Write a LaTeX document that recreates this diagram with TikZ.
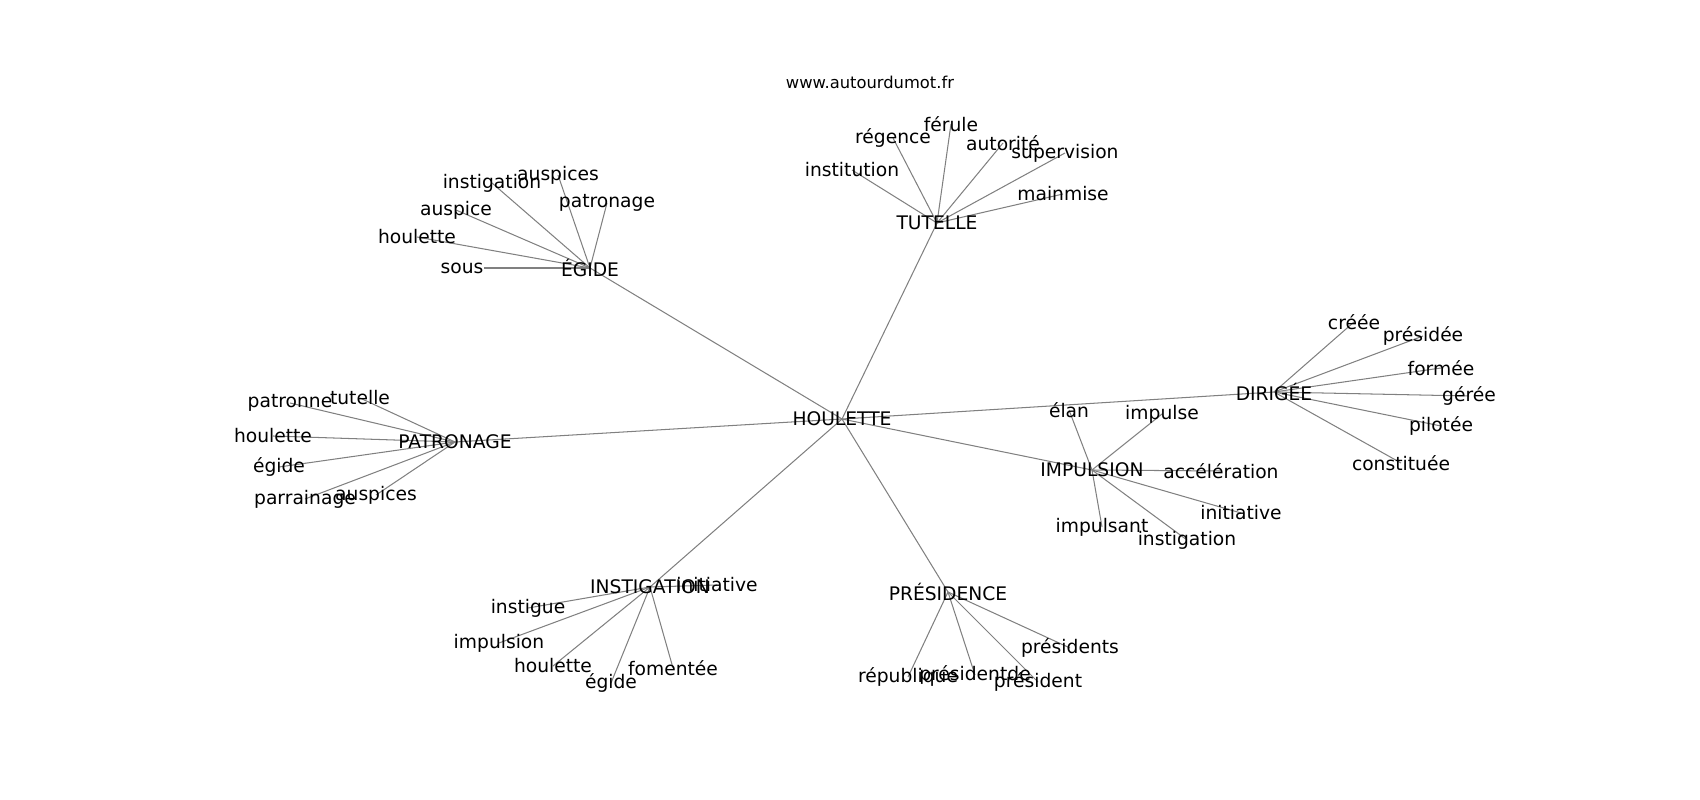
\documentclass[tikz,border=0pt]{standalone}
\usepackage{fontspec}
\setmainfont{DejaVu Sans}
\usepackage{tikz}
\usetikzlibrary{backgrounds}

\begin{document}
\begin{tikzpicture}[x=0.01in,y=-0.01in,
	word/.style={inner sep=0pt,font=\fontsize{13.5}{16}\selectfont},
	link/.style={draw=gray,line width=0.75pt}]
		\useasboundingbox (0,0) rectangle (1700,800);
		\node[inner sep=0pt,font=\fontsize{11.8}{14}\selectfont] (WWW) at (870,82) {www.autourdumot.fr};
		%
		\node[word] (H) at (842,419) {HOULETTE};
		\node[word] (EG) at (590,268) {ÉGIDE};
		\node[word] (TU) at (937,223) {TUTELLE};
		\node[word] (PA) at (455,442) {PATRONAGE};
		\node[word] (IN) at (650,587) {INSTIGATION};
		\node[word] (PR) at (948,592) {PRÉSIDENCE};
		\node[word] (IM) at (1092,470) {IMPULSION};
		\node[word] (DI) at (1274,392) {DIRIGÉE};
		%
		\node[word] (EG1) at (462,268) {sous};
		\node[word] (EG2) at (417,237) {houlette};
		\node[word] (EG3) at (456,210) {auspice};
		\node[word] (EG4) at (492,183) {instigation};
		\node[word] (EG5) at (558,175) {auspices};
		\node[word] (EG6) at (607,203) {patronage};
		%
		\node[word] (TU1) at (852,170) {institution};
		\node[word] (TU2) at (893,138) {régence};
		\node[word] (TU3) at (951,124) {férule};
		\node[word] (TU4) at (1003,143) {autorité};
		\node[word] (TU5) at (1065,153) {supervision};
		\node[word] (TU6) at (1063,194) {mainmise};
		%
		\node[word] (PA1) at (290,403) {patronne};
		\node[word] (PA2) at (360,398) {tutelle};
		\node[word] (PA3) at (273,436) {houlette};
		\node[word] (PA4) at (279,467) {égide};
		\node[word] (PA5) at (305,499) {parrainage};
		\node[word] (PA6) at (376,495) {auspices};
		%
		\node[word] (IN1) at (717,585) {initiative};
		\node[word] (IN2) at (528,608) {instigue};
		\node[word] (IN3) at (499,643) {impulsion};
		\node[word] (IN4) at (553,666) {houlette};
		\node[word] (IN5) at (611,683) {égide};
		\node[word] (IN6) at (673,668) {fomentée};
		%
		\node[word] (PR1) at (908,677) {république};
		\node[word] (PR2) at (975,675) {présidentde};
		\node[word] (PR3) at (1038,682) {président};
		\node[word] (PR4) at (1070,648) {présidents};
		%
		\node[word] (IM1) at (1069,410) {élan};
		\node[word] (IM2) at (1162,414) {impulse};
		\node[word] (IM3) at (1221,471) {accélération};
		\node[word] (IM4) at (1241,513) {initiative};
		\node[word] (IM5) at (1102,527) {impulsant};
		\node[word] (IM6) at (1187,540) {instigation};
		%
		\node[word] (DI1) at (1354,322) {créée};
		\node[word] (DI2) at (1423,336) {présidée};
		\node[word] (DI3) at (1441,368) {formée};
		\node[word] (DI4) at (1469,396) {gérée};
		\node[word] (DI5) at (1441,426) {pilotée};
		\node[word] (DI6) at (1401,463) {constituée};
		%
		\begin{pgfonlayer}{background}
		\path[link]
		(H.center) edge (EG.center)
		(H.center) edge (TU.center)
		(H.center) edge (PA.center)
		(H.center) edge (IN.center)
		(H.center) edge (PR.center)
		(H.center) edge (IM.center)
		(H.center) edge (DI.center)
		(EG.center) edge (EG1.east)
		(EG.center) edge (EG2.center)
		(EG.center) edge (EG3.center)
		(EG.center) edge (EG4.center)
		(EG.center) edge (EG5.center)
		(EG.center) edge (EG6.center)
		(TU.center) edge (TU1.center)
		(TU.center) edge (TU2.center)
		(TU.center) edge (TU3.center)
		(TU.center) edge (TU4.center)
		(TU.center) edge (TU5.center)
		(TU.center) edge (TU6.center)
		(PA.center) edge (PA1.center)
		(PA.center) edge (PA2.center)
		(PA.center) edge (PA3.center)
		(PA.center) edge (PA4.center)
		(PA.center) edge (PA5.center)
		(PA.center) edge (PA6.center)
		(IN.center) edge (IN1.center)
		(IN.center) edge (IN2.center)
		(IN.center) edge (IN3.center)
		(IN.center) edge (IN4.center)
		(IN.center) edge (IN5.center)
		(IN.center) edge (IN6.center)
		(PR.center) edge (PR1.center)
		(PR.center) edge (PR2.center)
		(PR.center) edge (PR3.center)
		(PR.center) edge (PR4.center)
		(IM.center) edge (IM1.center)
		(IM.center) edge (IM2.center)
		(IM.center) edge (IM3.center)
		(IM.center) edge (IM4.center)
		(IM.center) edge (IM5.center)
		(IM.center) edge (IM6.center)
		(DI.center) edge (DI1.center)
		(DI.center) edge (DI2.center)
		(DI.center) edge (DI3.center)
		(DI.center) edge (DI4.center)
		(DI.center) edge (DI5.center)
		(DI.center) edge (DI6.center);
		\end{pgfonlayer}
\end{tikzpicture}
\end{document}
